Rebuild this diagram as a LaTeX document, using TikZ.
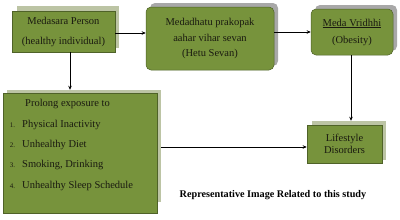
\documentclass[tikz,border=0pt]{standalone}
\usepackage{fontspec}
\setmainfont{Liberation Serif}
\usetikzlibrary{arrows.meta,calc}
\definecolor{boxgreen}{HTML}{77933C}
\definecolor{boxedge}{HTML}{4F6228}
\definecolor{shadegreen}{HTML}{BCC4A4}
\definecolor{shadegray}{HTML}{A8A8A8}
\definecolor{txt}{HTML}{1A1A10}
\tikzset{
  mainbox/.style={draw=boxedge, line width=0.5pt, fill=boxgreen, inner sep=0pt, text=txt, font=\fontsize{10.5}{20}\selectfont, align=center},
  roundbox/.style={mainbox, rounded corners=5pt},
  shadeA/.style={fill=shadegreen, draw=none, inner sep=0pt},
  shadeB/.style={fill=shadegray, draw=none, inner sep=0pt, rounded corners=5pt},
  itemtxt/.style={text=txt, font=\fontsize{10.5}{12}\selectfont, anchor=west, inner sep=0pt},
  conn/.style={line width=0.9pt, -{Stealth[length=4pt,width=3.5pt]}}
}
\newcommand{\itemnum}[1]{\llap{\fontsize{7}{8}\selectfont #1\hspace{7pt}}}
\begin{document}
\begin{tikzpicture}[x=1pt,y=-1pt]
\useasboundingbox (0,0) rectangle (400,220);
% box 1
\node[shadeA, minimum width=102, minimum height=42] (b1s) at (68,27) {};
\node[mainbox, minimum width=103, minimum height=41] (b1) at (63.5,31.5) {Medasara Person\\(healthy individual)};
% box 2
\node[shadeB, minimum width=128, minimum height=63] (b2s) at (214,34.5) {};
\node[roundbox, minimum width=128, minimum height=63, font=\fontsize{10.5}{15.5}\selectfont] (b2) at (210,38.5) {Medadhatu prakopak\\aahar vihar sevan\\(Hetu Sevan)};
% box 3
\node[shadeB, minimum width=82, minimum height=46] (b3s) at (356,28) {};
\node[roundbox, minimum width=82, minimum height=46, font=\fontsize{10.5}{17}\selectfont] (b3) at (352,32) {\underline{Meda Vridhhi}\\(Obesity)};
% box 4
\node[shadeA, minimum width=154, minimum height=112] (b4s) at (84,146) {};
\node[mainbox, minimum width=154, minimum height=120] (b4) at (80,153) {};
\node[itemtxt] (t0) at (25,104) {Prolong exposure to};
\node[itemtxt] (t1) at (22,125) {\itemnum{1.}Physical Inactivity};
\node[itemtxt] (t2) at (22,145) {\itemnum{2.}Unhealthy Diet};
\node[itemtxt] (t3) at (22,165) {\itemnum{3.}Smoking, Drinking};
\node[itemtxt] (t4) at (22,186) {\itemnum{4.}Unhealthy Sleep Schedule};
% box 5
\node[shadeA, minimum width=74, minimum height=39] (b5s) at (349,140.5) {};
\node[mainbox, minimum width=75, minimum height=38, font=\fontsize{10.5}{12.5}\selectfont] (b5) at (344.5,144) {Lifestyle\\Disorders};
% caption
\node[font=\bfseries\fontsize{10.2}{12}\selectfont, text=black] (cap) at (273,195) {Representative Image Related to this study};
% connectors
\draw[conn] ([yshift=-1.5pt]b1.east) -- ([yshift=-1.5pt]b1.east -| b2.west);
\draw[conn] (b3.west -| b2.east) -- (b3.west);
\draw[conn] ([xshift=6.5pt]b1.south) -- ([xshift=6.5pt]b1.south |- b4s.north);
\draw[conn] ([xshift=-1pt]b3.south) -- ([xshift=-1pt]b3.south |- b5s.north);
\draw[conn] ([yshift=-3pt]b5.west -| b4s.east) -- ([yshift=-3pt]b5.west);
\end{tikzpicture}
\end{document}
